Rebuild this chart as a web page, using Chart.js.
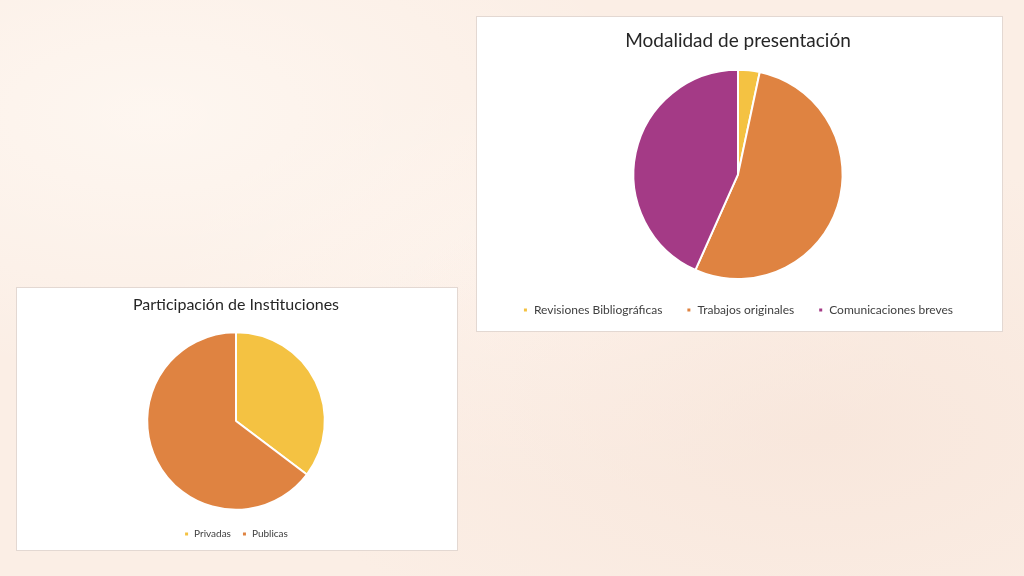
<!DOCTYPE html>
<html>
<head>
<meta charset="utf-8">
<script src="https://cdn.jsdelivr.net/npm/chart.js@4.4.0/dist/chart.umd.min.js"></script>
<style>
  html, body { margin: 0; padding: 0; }
  body {
    width: 1024px; height: 576px; overflow: hidden; position: relative;
    background: #fbeee5;
    background-image:
      radial-gradient(ellipse at 15% 20%, rgba(255,250,245,0.7), rgba(255,250,245,0) 40%),
      radial-gradient(ellipse at 80% 75%, rgba(246,226,214,0.6), rgba(246,226,214,0) 45%),
      radial-gradient(ellipse at 55% 50%, rgba(255,246,240,0.6), rgba(255,246,240,0) 50%);
  }
  .panel {
    position: absolute; background: #fff;
    border: 1px solid #e3d8d2; box-sizing: border-box;
  }
  #p1 { left: 476px; top: 16px; width: 527px; height: 316px; }
  #p2 { left: 16px; top: 287px; width: 442px; height: 264px; }
  canvas { display: block; }
</style>
</head>
<body>
<div class="panel" id="p1"><canvas id="chart1"></canvas></div>
<div class="panel" id="p2"><canvas id="chart2"></canvas></div>
<script>
  const modalidadLabels = ["Revisiones Bibliográficas", "Trabajos originales", "Comunicaciones breves"];
  const modalidadValues = [1, 16, 13];
  const modalidadColors = ["#f4c242", "#df8341", "#a43a86"];

  const institucionLabels = ["Privadas", "Publicas"];
  const institucionValues = [6, 11];
  const institucionColors = ["#f4c242", "#df8341"];

  Chart.defaults.font.family = "Lato, 'Open Sans', sans-serif";

  const makePie = (id, title, labels, values, colors, opts) => {
    return new Chart(document.getElementById(id), {
      type: "pie",
      data: {
        labels: labels,
        datasets: [{
          data: values,
          backgroundColor: colors,
          borderColor: "#ffffff",
          borderWidth: 2
        }]
      },
      options: {
        responsive: true,
        maintainAspectRatio: false,
        animation: false,
        layout: { padding: opts.padding },
        plugins: {
          tooltip: { enabled: false },
          title: {
            display: true,
            text: title,
            color: "#262626",
            font: { size: opts.titleSize, weight: "normal" },
            padding: opts.titlePadding
          },
          legend: {
            position: "bottom",
            // empty legend title, only used as a spacer above the items
            title: {
              display: opts.legendGap > 0,
              text: "",
              font: { size: 1 },
              padding: { top: opts.legendGap, bottom: 0 }
            },
            labels: {
              usePointStyle: true,
              pointStyle: "rect",
              boxWidth: 5,
              boxHeight: 5,
              color: "#404040",
              font: { size: opts.legendSize },
              padding: opts.legendPadding
            }
          }
        }
      }
    });
  };

  makePie("chart1", "Modalidad de presentación", modalidadLabels, modalidadValues, modalidadColors, {
    padding: { top: 0, bottom: 5, left: 0, right: 3 },
    titleSize: 19,
    titlePadding: { top: 12, bottom: 17 },
    legendSize: 12,
    legendPadding: 24,
    legendGap: 0
  });

  makePie("chart2", "Participación de Instituciones", institucionLabels, institucionValues, institucionColors, {
    padding: { top: 0, bottom: 1, left: 0, right: 2 },
    titleSize: 16,
    titlePadding: { top: 7, bottom: 17 },
    legendSize: 10,
    legendPadding: 11,
    legendGap: 6
  });
</script>
</body>
</html>
